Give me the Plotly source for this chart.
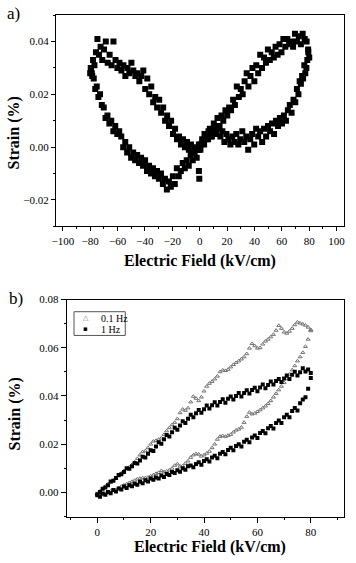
import plotly.graph_objects as go

# ---- panel a: butterfly loop (strain vs field), four sweep segments ----
field_a_1 = [0.5, 1.8, 3.2, 4.6, 6.1, 7.4, 8.9, 10.3, 11.6, 13.0, 14.5, 15.9, 17.2, 18.8,
             20.1, 21.5, 22.9, 24.4, 25.7, 27.1, 28.6, 30.0, 31.4, 32.8, 34.3, 35.6, 37.1,
             38.5, 39.9, 41.3, 42.7, 44.2, 45.5, 47.0, 48.4, 49.8, 51.2, 52.6, 54.1, 55.4,
             56.9, 58.3, 59.7, 61.1, 62.5, 64.0, 65.3, 66.8, 68.2, 69.6, 71.0, 72.4, 73.9,
             75.2, 76.7, 78.1, 79.3]
strain_a_1 = [-0.001, 0.003, 0.001, 0.005, 0.003, 0.007, 0.004, 0.009, 0.006, 0.011, 0.008,
              0.012, 0.010, 0.014, 0.012, 0.015, 0.014, 0.018, 0.016, 0.023, 0.019, 0.022,
              0.020, 0.025, 0.028, 0.023, 0.027, 0.030, 0.025, 0.031, 0.028, 0.035, 0.030,
              0.034, 0.032, 0.037, 0.033, 0.036, 0.034, 0.038, 0.035, 0.039, 0.036, 0.041,
              0.038, 0.041, 0.039, 0.040, 0.038, 0.043, 0.040, 0.042, 0.039, 0.043, 0.041,
              0.040, 0.036]

field_a_2 = [80.0, 79.2, 78.6, 77.9, 77.1, 76.4, 75.5, 74.8, 73.9, 73.0, 72.1, 71.0, 69.8,
             68.5, 67.1, 65.8, 64.4, 63.0, 61.5, 60.1, 58.6, 57.2, 55.7, 54.3, 52.8, 51.4,
             49.9, 48.5, 47.0, 45.6, 44.1, 42.7, 41.2, 39.8, 38.3, 36.9, 35.4, 34.0, 32.5,
             31.1, 29.6, 28.2, 26.7, 25.3, 23.8, 22.4, 20.9, 19.5, 18.0, 16.6, 15.1, 13.7,
             12.2, 10.8, 9.3, 7.9, 6.4, 5.0, 3.5, 2.1, 0.6]
strain_a_2 = [0.034, 0.037, 0.033, 0.030, 0.028, 0.031, 0.026, 0.027, 0.024, 0.025, 0.020,
              0.022, 0.017, 0.018, 0.013, 0.016, 0.014, 0.010, 0.012, 0.009, 0.011, 0.008,
              0.010, 0.005, 0.009, 0.006, 0.008, 0.004, 0.007, 0.002, 0.006, 0.004, 0.007,
              0.001, 0.005, 0.003, -0.001, 0.004, 0.002, 0.006, 0.003, 0.001, 0.005, 0.002,
              0.004, 0.001, 0.003, 0.005, 0.002, 0.006, 0.004, 0.007, 0.005, 0.008, 0.006,
              0.004, 0.006, 0.003, 0.005, 0.002, 0.001]

field_a_3 = [-0.3, -0.6, -0.8, -2.2, -3.7, -5.1, -6.6, -8.0, -9.5, -10.9, -12.4, -13.8, -15.3,
             -16.7, -18.2, -19.6, -21.1, -22.5, -24.0, -25.4, -26.9, -28.3, -29.8, -31.2,
             -32.7, -34.1, -35.6, -37.0, -38.5, -39.9, -41.4, -42.8, -44.3, -45.7, -47.2,
             -48.6, -50.1, -51.5, -53.0, -54.4, -55.9, -57.3, -58.8, -60.2, -61.7, -63.1,
             -64.6, -66.0, -67.4, -68.8, -70.1, -71.5, -72.8, -74.0, -75.2, -76.3, -77.4,
             -78.5, -79.4, -80.0]
strain_a_3 = [-0.012, -0.009, -0.001, -0.004, -0.002, -0.005, -0.003, -0.007, -0.005, -0.008,
              -0.006, -0.009, -0.011, -0.008, -0.014, -0.011, -0.015, -0.013, -0.016, -0.012,
              -0.014, -0.010, -0.012, -0.009, -0.011, -0.008, -0.010, -0.007, -0.009, -0.005,
              -0.007, -0.004, -0.006, -0.003, -0.005, -0.002, -0.004, 0.000, -0.002, 0.002,
              0.000, 0.004, 0.006, 0.005, 0.008, 0.006, 0.010, 0.009, 0.012, 0.011, 0.015,
              0.016, 0.020, 0.019, 0.023, 0.022, 0.026, 0.027, 0.029, 0.028]

field_a_4 = [-79.6, -78.8, -77.9, -76.9, -75.8, -74.7, -73.6, -72.4, -71.2, -69.9, -68.6,
             -67.2, -65.8, -64.4, -63.0, -61.5, -60.1, -58.6, -57.2, -55.7, -54.3, -52.8,
             -51.4, -49.9, -48.5, -47.0, -45.6, -44.1, -42.7, -41.2, -39.8, -38.3, -36.9,
             -35.4, -34.0, -32.5, -31.1, -29.6, -28.2, -26.7, -25.3, -23.8, -22.4, -20.9,
             -19.5, -18.0, -16.6, -15.1, -13.7, -12.2, -10.8, -9.3, -7.9, -6.4, -5.0, -3.5,
             -2.1, -0.6]
strain_a_4 = [0.030, 0.028, 0.033, 0.031, 0.036, 0.041, 0.035, 0.038, 0.033, 0.037, 0.040,
              0.032, 0.035, 0.031, 0.040, 0.033, 0.030, 0.032, 0.029, 0.031, 0.027, 0.030,
              0.028, 0.032, 0.029, 0.027, 0.028, 0.025, 0.027, 0.029, 0.022, 0.026, 0.020,
              0.023, 0.017, 0.019, 0.015, 0.018, 0.013, 0.015, 0.010, 0.012, 0.008, 0.010,
              0.005, 0.007, 0.003, 0.004, 0.001, 0.003, 0.000, 0.002, -0.001, 0.001, -0.002,
              0.000, -0.001, 0.001]

# ---- panel b: unipolar loops at two frequencies (values listed at ascending field) ----
field_b = [0, 1, 2, 3, 4, 5, 6, 7, 8, 9, 10, 11, 12, 13, 14, 15, 16, 17, 18, 19, 20,
           21, 22, 23, 24, 25, 26, 27, 28, 29, 30, 31, 32, 33, 34, 35, 36, 37, 38, 39, 40,
           41, 42, 43, 44, 45, 46, 47, 48, 49, 50, 51, 52, 53, 54, 55, 56, 57, 58, 59, 60,
           61, 62, 63, 64, 65, 66, 67, 68, 69, 70, 71, 72, 73, 74, 75, 76, 77, 78, 79, 80]

strain_01hz_rise = [-0.0010, -0.0012, -0.0008, -0.0005, 0.0000, 0.0005, 0.0008, 0.0010, 0.0018,
                    0.0025, 0.0030, 0.0035, 0.0040, 0.0045, 0.0050, 0.0055, 0.0058, 0.0060,
                    0.0060, 0.0063, 0.0068, 0.0072, 0.0078, 0.0082, 0.0090, 0.0085, 0.0088,
                    0.0092, 0.0100, 0.0112, 0.0118, 0.0108, 0.0110, 0.0120, 0.0130, 0.0145,
                    0.0155, 0.0160, 0.0158, 0.0150, 0.0155, 0.0162, 0.0170, 0.0185, 0.0200,
                    0.0220, 0.0232, 0.0235, 0.0232, 0.0236, 0.0240, 0.0250, 0.0258, 0.0262,
                    0.0270, 0.0290, 0.0315, 0.0332, 0.0325, 0.0328, 0.0335, 0.0342, 0.0350,
                    0.0358, 0.0368, 0.0380, 0.0395, 0.0410, 0.0425, 0.0440, 0.0455, 0.0472,
                    0.0490, 0.0508, 0.0525, 0.0545, 0.0562, 0.0580, 0.0605, 0.0635, 0.0670]
strain_01hz_fall = [-0.0005, 0.0005, 0.0015, 0.0025, 0.0035, 0.0042, 0.0050, 0.0058, 0.0068,
                    0.0080, 0.0090, 0.0098, 0.0105, 0.0115, 0.0125, 0.0140, 0.0155, 0.0168,
                    0.0172, 0.0185, 0.0200, 0.0212, 0.0215, 0.0220, 0.0225, 0.0240, 0.0255,
                    0.0268, 0.0280, 0.0290, 0.0305, 0.0330, 0.0345, 0.0340, 0.0350, 0.0375,
                    0.0398, 0.0390, 0.0380, 0.0395, 0.0420, 0.0440, 0.0452, 0.0460, 0.0470,
                    0.0482, 0.0500, 0.0507, 0.0505, 0.0510, 0.0520, 0.0530, 0.0538, 0.0545,
                    0.0553, 0.0562, 0.0575, 0.0598, 0.0617, 0.0608, 0.0598, 0.0600, 0.0615,
                    0.0627, 0.0635, 0.0645, 0.0655, 0.0672, 0.0692, 0.0680, 0.0665, 0.0660,
                    0.0668, 0.0680, 0.0695, 0.0706, 0.0702, 0.0698, 0.0693, 0.0685, 0.0675]

strain_1hz_rise = [-0.0012, -0.0018, -0.0005, -0.0010, 0.0002, -0.0004, 0.0010, 0.0004, 0.0016,
                   0.0012, 0.0024, 0.0018, 0.0030, 0.0026, 0.0036, 0.0032, 0.0044, 0.0038,
                   0.0050, 0.0045, 0.0058, 0.0052, 0.0062, 0.0058, 0.0070, 0.0064, 0.0076,
                   0.0072, 0.0085, 0.0080, 0.0092, 0.0086, 0.0100, 0.0094, 0.0108, 0.0112,
                   0.0104, 0.0118, 0.0125, 0.0115, 0.0130, 0.0138, 0.0128, 0.0145, 0.0152,
                   0.0142, 0.0160, 0.0168, 0.0158, 0.0176, 0.0185, 0.0175, 0.0192, 0.0200,
                   0.0190, 0.0210, 0.0218, 0.0208, 0.0228, 0.0236, 0.0226, 0.0246, 0.0255,
                   0.0245, 0.0266, 0.0275, 0.0265, 0.0288, 0.0298, 0.0288, 0.0312, 0.0322,
                   0.0312, 0.0338, 0.0350, 0.0340, 0.0370, 0.0385, 0.0395, 0.0430, 0.0475]
strain_1hz_fall = [-0.0008, 0.0002, 0.0015, 0.0020, 0.0030, 0.0045, 0.0048, 0.0060, 0.0072,
                   0.0075, 0.0085, 0.0100, 0.0098, 0.0108, 0.0122, 0.0120, 0.0132, 0.0148,
                   0.0145, 0.0160, 0.0175, 0.0172, 0.0190, 0.0208, 0.0202, 0.0220, 0.0238,
                   0.0232, 0.0250, 0.0268, 0.0260, 0.0278, 0.0295, 0.0288, 0.0305, 0.0322,
                   0.0312, 0.0328, 0.0342, 0.0330, 0.0345, 0.0360, 0.0348, 0.0362, 0.0374,
                   0.0360, 0.0375, 0.0386, 0.0372, 0.0388, 0.0398, 0.0385, 0.0400, 0.0412,
                   0.0398, 0.0412, 0.0424, 0.0410, 0.0425, 0.0434, 0.0420, 0.0435, 0.0448,
                   0.0432, 0.0445, 0.0460, 0.0448, 0.0462, 0.0470, 0.0458, 0.0472, 0.0485,
                   0.0470, 0.0488, 0.0500, 0.0485, 0.0498, 0.0515, 0.0502, 0.0510, 0.0495]

legend_labels = ["0.1 Hz", "1 Hz"]

SERIF = "Liberation Serif, Times New Roman, Times, serif"
W, H = 356, 563


def px(x):
    return x / W


def py(y):
    return 1 - y / H


fig = go.Figure()

# panel a
fig.add_trace(go.Scatter(
    x=field_a_1 + field_a_2 + field_a_3 + field_a_4,
    y=strain_a_1 + strain_a_2 + strain_a_3 + strain_a_4,
    mode="markers", marker=dict(symbol="square", size=6, color="black"),
    xaxis="x", yaxis="y", showlegend=False,
))

# panel b
fig.add_trace(go.Scatter(
    x=field_b + field_b[::-1], y=strain_01hz_rise + strain_01hz_fall[::-1],
    mode="markers", name=legend_labels[0], showlegend=False,
    marker=dict(symbol="triangle-up-open", size=3.5, color="#707070", line=dict(width=1)),
    xaxis="x2", yaxis="y2",
))
fig.add_trace(go.Scatter(
    x=field_b + field_b[::-1], y=strain_1hz_rise + strain_1hz_fall[::-1],
    mode="markers", name=legend_labels[1], showlegend=False,
    marker=dict(symbol="square", size=4, color="black"),
    xaxis="x2", yaxis="y2",
))


def main_axis(domain, rng, dtick, minor, anchor, fmt=None, ticklen=4):
    ax = dict(
        domain=domain, range=rng, anchor=anchor, dtick=dtick, tick0=0,
        ticks="outside", ticklen=ticklen, tickwidth=1, tickcolor="black",
        minor=dict(dtick=minor, tick0=0, ticks="outside", ticklen=2, tickcolor="black"),
        showline=True, linecolor="black", linewidth=1, mirror=True,
        showgrid=False, zeroline=False,
        tickfont=dict(family=SERIF, size=11, color="black"),
    )
    if fmt:
        ax["tickformat"] = fmt
    return ax


def mirror_axis(over, side, rng, dtick, minor, anchor):
    return dict(
        overlaying=over, side=side, range=rng, anchor=anchor, dtick=dtick, tick0=0,
        ticks="inside", ticklen=4, tickwidth=1, tickcolor="black",
        minor=dict(dtick=minor, tick0=0, ticks="inside", ticklen=2, tickcolor="black"),
        showticklabels=False, showgrid=False, zeroline=False, showline=False,
    )


xa_rng = [-105, 105.5]
ya_rng = [-0.03, 0.05]
xb_rng = [-11.5, 92.5]
yb_rng = [-0.01, 0.08]

fig.update_layout(
    width=W, height=H,
    margin=dict(l=0, r=0, t=0, b=0),
    paper_bgcolor="white", plot_bgcolor="white",
    showlegend=False,
    xaxis=main_axis([px(52.7), px(345)], xa_rng, 20, 10, "y"),
    yaxis=main_axis([py(222.7), py(9.3)], ya_rng, 0.02, 0.01, "x", ".2f"),
    xaxis3=mirror_axis("x", "top", xa_rng, 20, 10, "y"),
    yaxis3=mirror_axis("y", "right", ya_rng, 0.02, 0.01, "x"),
    xaxis2=main_axis([px(63.5), px(345)], xb_rng, 20, 10, "y2", ticklen=5),
    yaxis2=main_axis([py(516), py(296.7)], yb_rng, 0.02, 0.01, "x2", ".2f", ticklen=5),
    xaxis4=mirror_axis("x2", "top", xb_rng, 20, 10, "y2"),
    yaxis4=mirror_axis("y2", "right", yb_rng, 0.02, 0.01, "x2"),
)

# legend box of panel b, drawn by hand to keep Origin's compact look
fig.add_shape(type="rect", xref="paper", yref="paper",
              x0=px(71), x1=px(123), y0=py(333), y1=py(309),
              line=dict(color="#555555", width=1), fillcolor="white")
legend_font = dict(family=SERIF, size=10, color="black")
for sym, col, label, yy in [("\u25b3", "#707070", legend_labels[0], 315.5),
                            ("\u25aa", "black", legend_labels[1], 326.5)]:
    fig.add_annotation(text=sym, x=px(83), y=py(yy), xref="paper", yref="paper",
                       xanchor="center", yanchor="middle", showarrow=False,
                       font=dict(family="DejaVu Sans", size=7, color=col))
    fig.add_annotation(text=label, x=px(96), y=py(yy), xref="paper", yref="paper",
                       xanchor="left", yanchor="middle", showarrow=False, font=legend_font)

title_font = dict(family=SERIF, size=16, color="black")
label_font = dict(family=SERIF, size=17, color="black")
notes = [
    ("<b>Electric Field (kV/cm)</b>", 199, 258, 0, title_font),
    ("<b>Strain (%)</b>", 10, 128, -90, title_font),
    ("<b>Electric Field (kV/cm)</b>", 209, 547, 0, title_font),
    ("<b>Strain (%)</b>", 11, 412, -90, title_font),
    ("a)", 10, 8, 0, label_font),
    ("b)", 12, 296, 0, label_font),
]
for text, x, y, ang, font in notes:
    fig.add_annotation(
        text=text, x=px(x), y=py(y), xref="paper", yref="paper",
        xanchor="center", yanchor="middle", showarrow=False, textangle=ang, font=font,
    )

# the default 8px body margin would push the fixed-size figure off the window
fig.write_html("out.html", config={"displayModeBar": False},
               post_script="document.body.style.margin = '0';")
